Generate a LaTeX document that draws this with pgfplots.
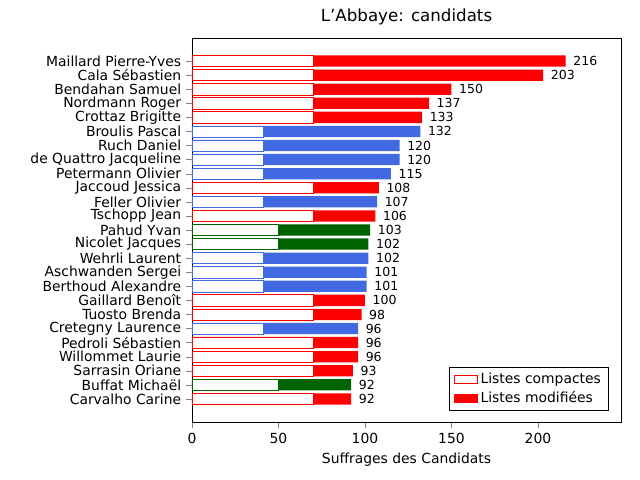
\documentclass[border=0pt]{standalone}
\usepackage{pgfplots}
\pgfplotsset{compat=1.18}
\usepackage{fontspec}
\setmainfont{DejaVu Sans}
\definecolor{rblue}{HTML}{4169E1}
\definecolor{dgreen}{HTML}{006400}
\begin{document}
\begin{tikzpicture}
\begin{axis}[
  scale only axis, width=308.9pt, height=276.5pt,
  xmin=0, xmax=248, ymin=-1.64, ymax=25.64, y dir=reverse,
  xtick={0,50,100,150,200},
  ytick={0,...,24},
  yticklabels={Maillard Pierre-Yves,Cala Sébastien,Bendahan Samuel,Nordmann Roger,Crottaz Brigitte,Broulis Pascal,Ruch Daniel,de Quattro Jacqueline,Petermann Olivier,Jaccoud Jessica,Feller Olivier,Tschopp Jean,Pahud Yvan,Nicolet Jacques,Wehrli Laurent,Aschwanden Sergei,Berthoud Alexandre,Gaillard Benoît,Tuosto Brenda,Cretegny Laurence,Pedroli Sébastien,Willommet Laurie,Sarrasin Oriane,Buffat Michaël,Carvalho Carine},
  tick label style={font=\fontsize{10}{12}\selectfont},
  /pgf/number format/assume math mode=true,
  xlabel={Suffrages des Candidats},
  xlabel style={font=\fontsize{10}{12}\selectfont},
  title={L'Abbaye: candidats},
  title style={font=\fontsize{12}{14}\selectfont},
  xbar, bar width=0.8, bar shift=0pt,
  nodes near coords, nodes near coords align={anchor=west},
  every node near coord/.append style={font=\fontsize{9}{11}\selectfont, black, xshift=2pt},
  legend pos=south east, legend cell align=left,
  legend style={font=\fontsize{10}{12}\selectfont},
  tick align=outside, tick pos=left,
]
\addlegendimage{area legend, draw=red, fill=white}
\addlegendentry{Listes compactes}
\addlegendimage{area legend, draw=red, fill=red}
\addlegendentry{Listes modifiées}
% totals
\addplot[draw=none, fill=red, forget plot] coordinates {(216,0)(203,1)(150,2)(137,3)(133,4)(108,9)(106,11)(100,17)(98,18)(96,20)(96,21)(93,22)(92,24)};
\addplot[draw=none, fill=rblue, forget plot] coordinates {(132,5)(120,6)(120,7)(115,8)(107,10)(102,14)(101,15)(101,16)(96,19)};
\addplot[draw=none, fill=dgreen, forget plot] coordinates {(103,12)(102,13)(92,23)};
% compact
\addplot[draw=red, fill=white, forget plot, nodes near coords=\empty] coordinates {(70,0)(70,1)(70,2)(70,3)(70,4)(70,9)(70,11)(70,17)(70,18)(70,20)(70,21)(70,22)(70,24)};
\addplot[draw=rblue, fill=white, forget plot, nodes near coords=\empty] coordinates {(41,5)(41,6)(41,7)(41,8)(41,10)(41,14)(41,15)(41,16)(41,19)};
\addplot[draw=dgreen, fill=white, forget plot, nodes near coords=\empty] coordinates {(50,12)(50,13)(50,23)};
\end{axis}
\path[use as bounding box] (current axis.south west) ++(-138.24pt,-41.76pt) rectangle ++(460.8pt,345.6pt);
\end{tikzpicture}
\end{document}
